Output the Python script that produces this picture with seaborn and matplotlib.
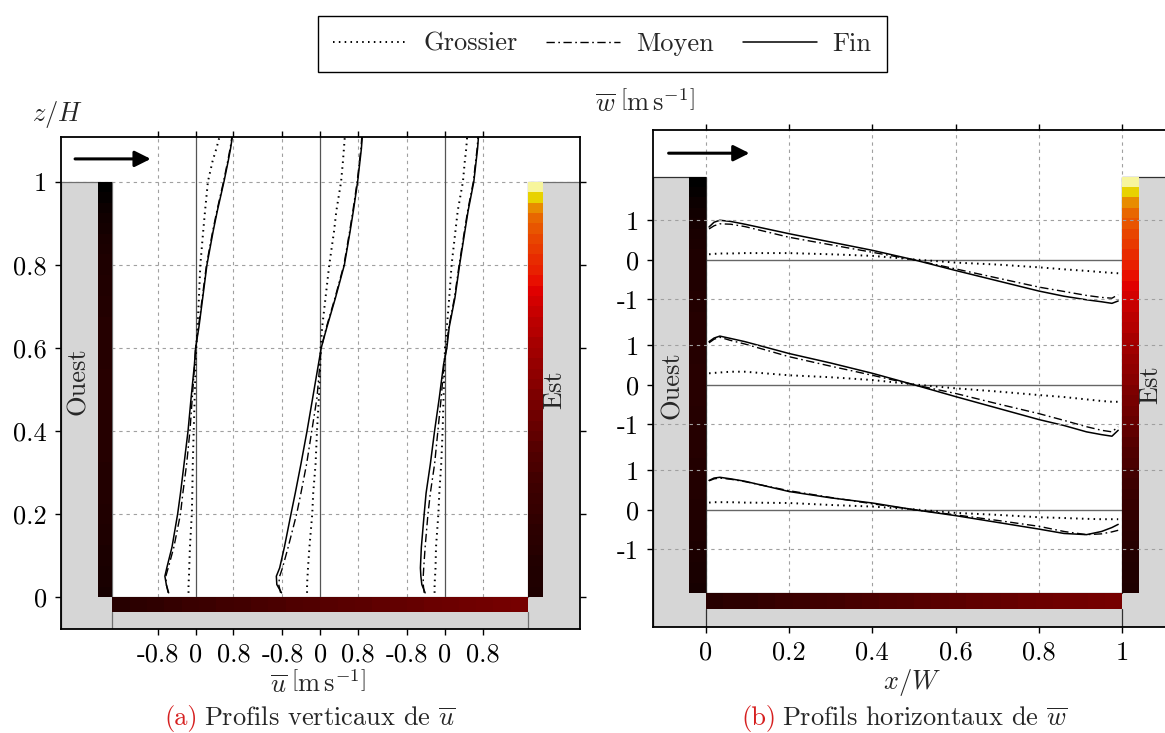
import numpy as np
import pandas as pd
import matplotlib
matplotlib.use("Agg")
import matplotlib.pyplot as plt
import seaborn as sns
from matplotlib.colors import LinearSegmentedColormap, Normalize
from matplotlib.patches import Polygon
from matplotlib.lines import Line2D

# ---------------- data ----------------
meshes = ["Grossier", "Moyen", "Fin"]

# vertical profiles of u (m/s) at x/W = 0.2, 0.5, 0.8
u_stations = [0.2, 0.5, 0.8]
z_u = [0.01, 0.03, 0.05, 0.07, 0.12, 0.2, 0.25, 0.32, 0.4, 0.48, 0.56, 0.6,
       0.65, 0.72, 0.8, 0.88, 0.93, 1.0, 1.05, 1.08, 1.11]
u_g_02 = [-0.15, -0.15, -0.14, -0.135, -0.12, -0.08, -0.07, -0.06, -0.04, -0.02, 0.0, 0.014,
          0.04, 0.07, 0.1, 0.16, 0.2, 0.26, 0.36, 0.44, 0.51]
u_m_02 = [-0.58, -0.62, -0.63, -0.58, -0.46, -0.32, -0.27, -0.19, -0.12, -0.07, -0.02, 0.0,
          0.06, 0.14, 0.23, 0.36, 0.45, 0.59, 0.68, 0.73, 0.77]
u_f_02 = [-0.57, -0.62, -0.65, -0.61, -0.50, -0.38, -0.32, -0.245, -0.16, -0.095, -0.025, 0.0,
          0.07, 0.15, 0.24, 0.37, 0.46, 0.60, 0.69, 0.74, 0.78]
u_g_05 = [-0.28, -0.28, -0.27, -0.26, -0.23, -0.17, -0.15, -0.10, -0.07, -0.03, 0.0, 0.007,
          0.04, 0.11, 0.19, 0.29, 0.34, 0.44, 0.48, 0.50, 0.52]
u_m_05 = [-0.84, -0.88, -0.86, -0.80, -0.68, -0.50, -0.41, -0.29, -0.18, -0.07, -0.01, 0.02,
          0.13, 0.31, 0.50, 0.62, 0.69, 0.78, 0.83, 0.86, 0.88]
u_f_05 = [-0.82, -0.92, -0.93, -0.86, -0.76, -0.62, -0.53, -0.41, -0.28, -0.16, -0.04, 0.02,
          0.14, 0.32, 0.51, 0.63, 0.70, 0.79, 0.84, 0.87, 0.89]
u_g_08 = [-0.22, -0.22, -0.21, -0.20, -0.19, -0.14, -0.12, -0.08, -0.05, -0.03, -0.01, 0.0,
          0.04, 0.09, 0.14, 0.22, 0.27, 0.38, 0.42, 0.45, 0.47]
u_m_08 = [-0.44, -0.46, -0.46, -0.45, -0.42, -0.36, -0.31, -0.22, -0.15, -0.08, -0.02, 0.03,
          0.08, 0.20, 0.30, 0.41, 0.48, 0.60, 0.65, 0.68, 0.70]
u_f_08 = [-0.42, -0.49, -0.51, -0.52, -0.50, -0.44, -0.40, -0.31, -0.22, -0.12, -0.03, 0.04,
          0.09, 0.21, 0.31, 0.42, 0.49, 0.61, 0.66, 0.69, 0.71]

# horizontal profiles of w (m/s) at z/H = 0.8, 0.5, 0.2
w_stations = [0.8, 0.5, 0.2]
x_w = [0.008, 0.02, 0.034, 0.06, 0.094, 0.2, 0.3, 0.4, 0.5, 0.6, 0.7, 0.8,
       0.86, 0.914, 0.95, 0.975, 0.99]
w_g_08 = [0.14, 0.15, 0.16, 0.16, 0.17, 0.17, 0.14, 0.10, 0.01, -0.07, -0.12, -0.19,
          -0.24, -0.28, -0.31, -0.33, -0.34]
w_m_08 = [0.78, 0.86, 0.91, 0.90, 0.84, 0.57, 0.38, 0.19, 0.0, -0.23, -0.46, -0.69,
          -0.80, -0.90, -0.95, -0.97, -0.88]
w_f_08 = [0.83, 0.95, 1.00, 0.97, 0.90, 0.66, 0.45, 0.24, 0.0, -0.27, -0.53, -0.79,
          -0.92, -1.01, -1.06, -1.10, -1.04]
w_g_05 = [0.29, 0.30, 0.31, 0.33, 0.33, 0.24, 0.19, 0.12, 0.01, -0.09, -0.17, -0.26,
          -0.31, -0.37, -0.41, -0.43, -0.43]
w_m_05 = [1.06, 1.15, 1.20, 1.12, 1.03, 0.71, 0.47, 0.24, 0.0, -0.22, -0.48, -0.73,
          -0.90, -1.06, -1.15, -1.19, -1.06]
w_f_05 = [1.09, 1.18, 1.23, 1.17, 1.09, 0.79, 0.55, 0.29, 0.0, -0.30, -0.59, -0.88,
          -1.03, -1.19, -1.26, -1.30, -1.15]
w_g_02 = [0.18, 0.19, 0.19, 0.19, 0.18, 0.17, 0.12, 0.08, 0.01, -0.08, -0.13, -0.19,
          -0.21, -0.23, -0.24, -0.24, -0.24]
w_m_02 = [0.73, 0.78, 0.80, 0.77, 0.71, 0.48, 0.31, 0.15, 0.0, -0.13, -0.27, -0.42,
          -0.55, -0.63, -0.61, -0.56, -0.52]
w_f_02 = [0.74, 0.80, 0.82, 0.78, 0.72, 0.46, 0.30, 0.17, 0.0, -0.15, -0.32, -0.49,
          -0.60, -0.63, -0.55, -0.45, -0.37]

# wall surface temperatures (normalised colour value), bottom -> top / left -> right
mur_ouest = [0.036, 0.040, 0.042, 0.044, 0.046, 0.048, 0.050, 0.052, 0.054, 0.055,
             0.056, 0.057, 0.058, 0.059, 0.060, 0.061, 0.062, 0.062, 0.063, 0.063,
             0.063, 0.063, 0.062, 0.062, 0.061, 0.060, 0.059, 0.058, 0.056, 0.054,
             0.052, 0.050, 0.048, 0.045, 0.040, 0.035, 0.030, 0.020, 0.010, 0.0]
mur_est = [0.048, 0.051, 0.054, 0.057, 0.064, 0.067, 0.073, 0.080, 0.086, 0.093,
           0.100, 0.108, 0.118, 0.127, 0.140, 0.153, 0.165, 0.178, 0.190, 0.203,
           0.216, 0.229, 0.242, 0.254, 0.268, 0.287, 0.300, 0.318, 0.338, 0.357,
           0.397, 0.424, 0.444, 0.465, 0.485, 0.513, 0.546, 0.608, 0.723, 0.950]
sol = [0.066, 0.072, 0.078, 0.084, 0.090, 0.096, 0.102, 0.108, 0.114, 0.120,
       0.126, 0.132, 0.138, 0.143, 0.148, 0.153, 0.158, 0.163, 0.168, 0.172,
       0.176, 0.180, 0.184, 0.188]

u_ticks_ms = [-0.8, 0.0, 0.8]
u_tick_labels = ["-0.8", "0", "0.8"]
z_ticks = [0, 0.2, 0.4, 0.6, 0.8, 1.0]
z_tick_labels = ["0", "0.2", "0.4", "0.6", "0.8", "1"]
w_ticks_ms = [1.0, 0.0, -1.0]
w_tick_labels = ["1", "0", "-1"]
x_ticks = [0, 0.2, 0.4, 0.6, 0.8, 1.0]
x_tick_labels = ["0", "0.2", "0.4", "0.6", "0.8", "1"]

# ---------------- style ----------------
sns.set_theme(style="ticks")
plt.rcParams["font.family"] = ["cmr10", "DejaVu Serif"]
plt.rcParams["mathtext.fontset"] = "cm"
plt.rcParams["axes.formatter.use_mathtext"] = True
plt.rcParams["axes.unicode_minus"] = False
FS = 19

U_SCALE = 0.1137   # x/W per m/s
W_SCALE = 0.095    # z/H per m/s
line_style = {"Grossier": dict(lw=1.4, ls=(0, (0.8, 2.2))),
              "Moyen": dict(lw=1.0, ls=(0, (6, 2.5, 1.2, 2.5))),
              "Fin": dict(lw=1.1, ls="-")}
cmap = LinearSegmentedColormap.from_list(
    "chaud", [(0.0, "#000000"), (0.37, "#e80000"), (0.75, "#e8e000"), (1.0, "#fafac0")])
norm = Normalize(0, 1)
GRID = dict(color="#a0a0a0", lw=0.8, ls=(0, (3, 3.5)))

# long-form frames
rows = []
u_series = {(0.2, "Grossier"): u_g_02, (0.2, "Moyen"): u_m_02, (0.2, "Fin"): u_f_02,
            (0.5, "Grossier"): u_g_05, (0.5, "Moyen"): u_m_05, (0.5, "Fin"): u_f_05,
            (0.8, "Grossier"): u_g_08, (0.8, "Moyen"): u_m_08, (0.8, "Fin"): u_f_08}
for (xs, m), vals in u_series.items():
    for z, u in zip(z_u, vals):
        rows.append({"station": xs, "maillage": m, "pos": xs + u * U_SCALE, "z": z})
dfu = pd.DataFrame(rows)

rows = []
w_series = {(0.8, "Grossier"): w_g_08, (0.8, "Moyen"): w_m_08, (0.8, "Fin"): w_f_08,
            (0.5, "Grossier"): w_g_05, (0.5, "Moyen"): w_m_05, (0.5, "Fin"): w_f_05,
            (0.2, "Grossier"): w_g_02, (0.2, "Moyen"): w_m_02, (0.2, "Fin"): w_f_02}
for (zs, m), vals in w_series.items():
    for x, w in zip(x_w, vals):
        rows.append({"station": zs, "maillage": m, "x": x, "pos": zs + w * W_SCALE})
dfw = pd.DataFrame(rows)

fig = plt.figure(figsize=(11.65, 7.33), dpi=100)
axL = fig.add_axes([0.0521, 0.14147, 0.4458, 0.6720])
axR = fig.add_axes([0.5603, 0.1446, 0.4478, 0.6780])
axL.set_xlim(-0.1246, 1.125)
axL.set_ylim(-0.0778, 1.1084)
axR.set_xlim(-0.1271, 1.125)
axR.set_ylim(-0.0816, 1.1116)


def building(ax, t, edge):
    x0, x1 = ax.get_xlim()
    y0, _ = ax.get_ylim()
    ax.add_patch(Polygon([(x0, y0), (x1, y0), (x1, 1), (1, 1), (1, 0), (0, 0), (0, 1), (x0, 1)],
                         closed=True, fc="#d6d6d6", ec=edge, lw=0.9, zorder=2))
    zb = np.linspace(0, 1, len(mur_ouest) + 1)
    ax.pcolormesh([-t, 0], zb, np.array(mur_ouest)[:, None], cmap=cmap, norm=norm,
                  shading="flat", zorder=3)
    zb = np.linspace(0, 1, len(mur_est) + 1)
    ax.pcolormesh([1, 1 + t], zb, np.array(mur_est)[:, None], cmap=cmap, norm=norm,
                  shading="flat", zorder=3)
    xb = np.linspace(0, 1, len(sol) + 1)
    ax.pcolormesh(xb, [-t, 0], np.array(sol)[None, :], cmap=cmap, norm=norm,
                  shading="flat", zorder=3)
    for xv in (0, 1):
        ax.plot([xv, xv], [y0, -t], color=edge, lw=0.9, zorder=3.5)


def profiles(ax, df, x, y):
    for m in meshes:
        sns.lineplot(data=df[df["maillage"] == m], x=x, y=y, units="station", estimator=None,
                     sort=False, color="black", legend=False, ax=ax, zorder=4,
                     **line_style[m])


# ---------------- left panel ----------------
ax = axL
TL = 0.036
for z in z_ticks[1:]:
    ax.axhline(z, zorder=1, **GRID)
for xs in u_stations:
    for u in (-0.8, 0.8):
        ax.plot([xs + u * U_SCALE] * 2, [0, 1.2], zorder=1, **GRID)
    ax.plot([xs, xs], [0, 1.2], color="#555555", lw=0.9, zorder=1.5)
building(ax, TL, "#707070")
profiles(ax, dfu, "pos", "z")
ax.set_xticks([xs + u * U_SCALE for xs in u_stations for u in u_ticks_ms])
ax.set_xticklabels(u_tick_labels * 3)
ax.set_yticks(z_ticks)
ax.set_yticklabels(z_tick_labels)
ax.text(-0.083, 0.52, "Ouest", rotation=90, ha="center", va="center", fontsize=FS, zorder=5)
ax.text(1.062, 0.50, "Est", rotation=90, ha="center", va="center", fontsize=FS, zorder=5)
ax.annotate("", xy=(0.092, 1.055), xytext=(-0.09, 1.055),
            arrowprops=dict(arrowstyle="-|>", color="black", lw=2.2, mutation_scale=24,
                            shrinkA=0, shrinkB=0), zorder=5)

# ---------------- right panel ----------------
ax = axR
TR = 0.039
for xv in x_ticks:
    ax.plot([xv, xv], [0, 1.2], zorder=1, **GRID)
for zs in w_stations:
    for w in (1, -1):
        ax.axhline(zs + w * W_SCALE, zorder=5, **GRID)
    ax.plot([0, 1], [zs, zs], color="#666666", lw=1.0, zorder=1.5)
building(ax, TR, "#303030")
profiles(ax, dfw, "x", "pos")
ax.set_xticks(x_ticks)
ax.set_xticklabels(x_tick_labels)
ax.set_yticks([zs + w * W_SCALE for zs in w_stations for w in w_ticks_ms])
ax.set_yticklabels(w_tick_labels * 3)
ax.text(-0.080, 0.50, "Ouest", rotation=90, ha="center", va="center", fontsize=FS, zorder=5)
ax.text(1.068, 0.50, "Est", rotation=90, ha="center", va="center", fontsize=FS, zorder=5)
ax.annotate("", xy=(0.105, 1.056), xytext=(-0.089, 1.056),
            arrowprops=dict(arrowstyle="-|>", color="black", lw=2.2, mutation_scale=24,
                            shrinkA=0, shrinkB=0), zorder=5)

for ax in (axL, axR):
    ax.set_xlabel("")
    ax.set_ylabel("")
    ax.tick_params(direction="out", top=True, right=True, bottom=True, left=True,
                   labeltop=False, labelright=False, length=4, width=1,
                   labelsize=FS, colors="black", pad=6)
    for s in ax.spines.values():
        s.set_color("black")
        s.set_linewidth(1.3)
        s.set_zorder(6)

W, H = 1165, 733
fig.text(57 / W, 1 - 115 / H, r"$z/H$", ha="center", va="center", fontsize=FS)
fig.text(645 / W, 1 - 103 / H, r"$\overline{w}\;\left[\mathrm{m\,s^{-1}}\right]$",
         ha="center", va="center", fontsize=FS)
fig.text(318 / W, 1 - 684 / H, r"$\overline{u}\;\left[\mathrm{m\,s^{-1}}\right]$",
         ha="center", va="center", fontsize=FS)
fig.text(912 / W, 1 - 682 / H, r"$x/W$", ha="center", va="center", fontsize=FS)
fig.text(198 / W, 1 - 719 / H, "(a)", ha="right", va="center", fontsize=FS, color="#d62020")
fig.text(204 / W, 1 - 719 / H, r"Profils verticaux de $\overline{u}$", ha="left", va="center",
         fontsize=FS)
fig.text(776 / W, 1 - 719 / H, "(b)", ha="right", va="center", fontsize=FS, color="#d62020")
fig.text(782 / W, 1 - 719 / H, r"Profils horizontaux de $\overline{w}$", ha="left",
         va="center", fontsize=FS)

handles = [Line2D([], [], color="black", **line_style[m]) for m in meshes]
leg = fig.legend(handles, meshes, loc="center", bbox_to_anchor=(602.5 / W, 1 - 44 / H),
                 ncol=3, frameon=True, fancybox=False, edgecolor="black", framealpha=1,
                 fontsize=FS, handlelength=2.8, handletextpad=0.6, columnspacing=1.1,
                 borderpad=0.6)
leg.get_frame().set_linewidth(1.0)

fig.savefig("out.png", dpi=100)
